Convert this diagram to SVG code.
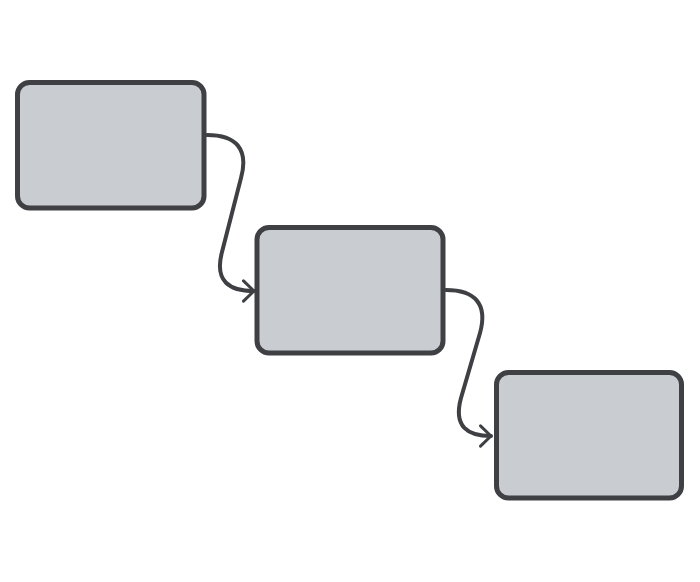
<svg xmlns="http://www.w3.org/2000/svg" width="700" height="582" viewBox="0 0 700 582">
<style>
.node{fill:#c9ccd1;stroke:#3f4044;stroke-width:5}
.conn{fill:none;stroke:#3f4044;stroke-width:4;stroke-linecap:round;stroke-linejoin:round}
</style>
<defs>
<marker id="arrow" markerUnits="userSpaceOnUse" markerWidth="30" markerHeight="30" refX="0" refY="0" orient="auto" overflow="visible" viewBox="-20 -20 40 40">
<path d="M-14,-13.5 L0,0 L-14,13.5" fill="none" stroke="#3f4044" stroke-width="4" stroke-linecap="round" stroke-linejoin="round"/>
</marker>
</defs>
<rect width="700" height="582" fill="#ffffff"/>
<g id="connectors">
<path class="conn" d="M207,135 C236,135 249,149 241,178 L222,252 C214,282 230,291 254,291" marker-end="url(#arrow)"/>
<path class="conn" d="M446,290 C475,290 488,304 480,333 L461,398 C453,427 468,436 491,436" marker-end="url(#arrow)"/>
</g>
<g id="node1"><rect class="node" x="17.5" y="82.5" width="186.5" height="125.5" rx="12"/></g>
<g id="node2"><rect class="node" x="257" y="227.5" width="186" height="125.5" rx="12"/></g>
<g id="node3"><rect class="node" x="496.5" y="372.5" width="185" height="125.5" rx="12"/></g>
</svg>
